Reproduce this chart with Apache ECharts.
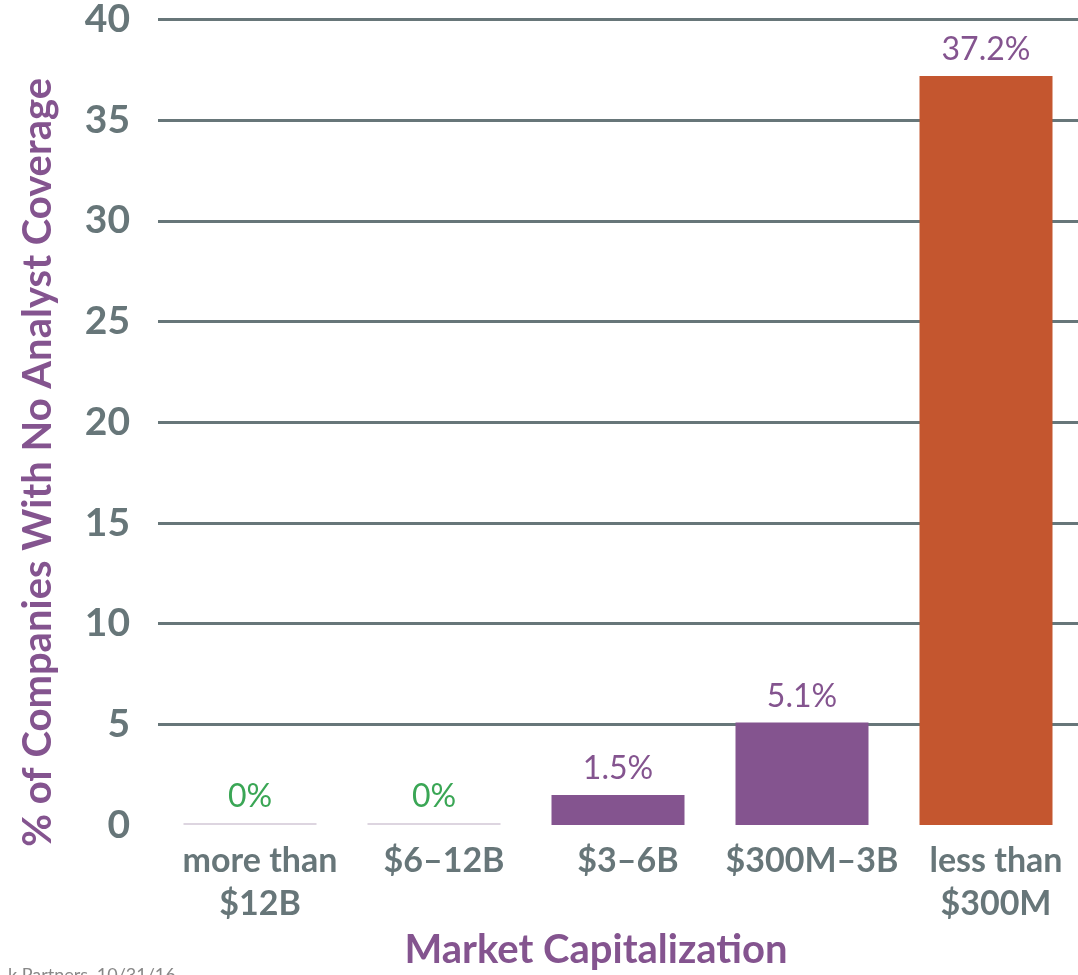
<!DOCTYPE html>
<html lang="en">
<head>
    <meta charset="UTF-8">
    <script src="https://cdn.jsdelivr.net/npm/echarts@6/dist/echarts.min.js"></script>
    <title>Analyst coverage</title>
    <style>
        html, body { margin: 0; padding: 0; background: #ffffff; }
        #chart { width: 1078px; height: 975px; }
    </style>
</head>
<body>
<div id="chart"></div>
<script>
    const categories = ['more than\n$12B', '$6–12B', '$3–6B', '$300M–3B', 'less than\n$300M'];
    const coverage = [0, 0, 1.5, 5.1, 37.2];
    const valueLabels = ['0%', '0%', '1.5%', '5.1%', '37.2%'];
    const yTicks = [0, 5, 10, 15, 20, 25, 30, 35, 40];

    const gray = '#677679';
    const purple = '#84548f';
    const font = 'Lato, "Noto Sans", sans-serif';

    const chart = echarts.init(document.getElementById('chart'));

    // zero bars get a faint baseline and green label, the last bar is orange
    const barData = coverage.map((v, i) => {
        let color = purple;
        let labelColor = purple;
        if (v === 0) { color = '#ddd5e0'; labelColor = '#3aa655'; }
        if (i === coverage.length - 1) color = '#c4562f';
        return {
            value: v,
            itemStyle: { color: color },
            label: { color: labelColor, formatter: valueLabels[i] }
        };
    });

    chart.setOption({
        animation: false,
        grid: { left: 158, right: 0, top: 19, bottom: 144 },
        xAxis: {
            type: 'category',
            data: categories,
            axisLine: { show: false },
            axisTick: { show: false },
            axisLabel: {
                color: gray,
                fontFamily: font,
                fontWeight: 'bold',
                fontSize: 34,
                lineHeight: 43,
                margin: 14,
                interval: 0,
                padding: [0, 0, 0, 20]
            },
            name: 'Market Capitalization',
            nameLocation: 'middle',
            nameGap: 102,
            nameTextStyle: {
                color: purple, fontFamily: font, fontWeight: 'bold', fontSize: 40,
                padding: [0, 44, 0, 0]
            }
        },
        yAxis: {
            type: 'value',
            min: 0,
            max: yTicks[yTicks.length - 1],
            interval: 5,
            axisLine: { show: false },
            axisTick: { show: false },
            axisLabel: {
                color: gray,
                fontFamily: font,
                fontWeight: 'bold',
                fontSize: 39,
                margin: 28
            },
            splitLine: {
                lineStyle: {
                    width: 3,
                    color: yTicks.map((t) => t === 0 ? 'rgba(0,0,0,0)' : gray)
                }
            },
            name: '% of Companies With No Analyst Coverage',
            nameLocation: 'middle',
            nameGap: 100,
            nameTextStyle: {
                color: purple, fontFamily: font, fontWeight: 'bold', fontSize: 40,
                padding: [0, 80, 0, 0]
            }
        },
        series: [{
            type: 'bar',
            data: barData,
            barWidth: 133,
            barMinHeight: 2,
            label: {
                show: true,
                position: 'top',
                distance: 10,
                fontFamily: font,
                fontSize: 32
            }
        }],
        graphic: [{
            type: 'text',
            left: 8,
            top: 966,
            style: { text: 'k Partners, 10/31/16', fill: '#888888', font: '18px ' + font }
        }]
    });
</script>
</body>
</html>
